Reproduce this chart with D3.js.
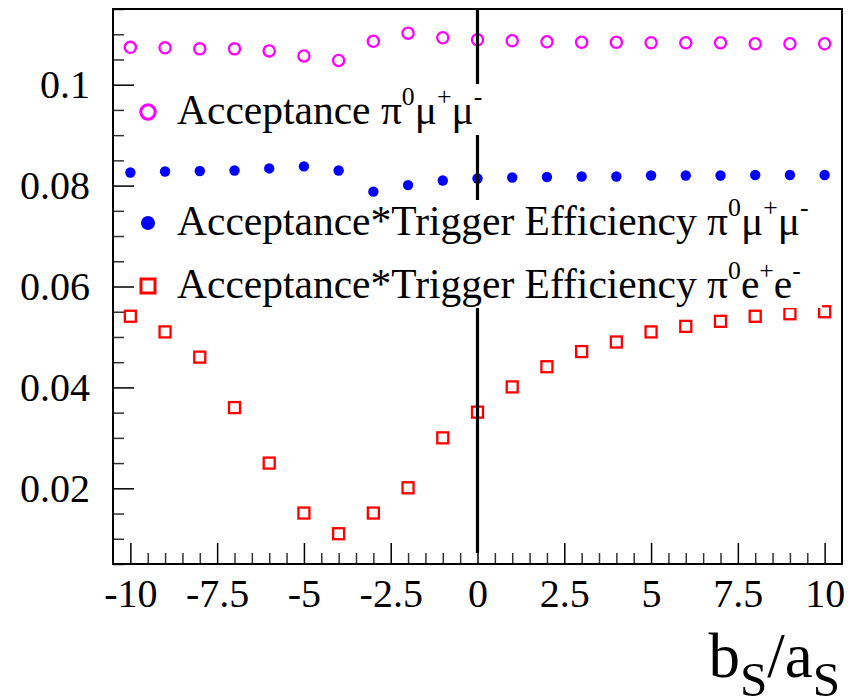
<!DOCTYPE html>
<html>
<head>
<meta charset="utf-8">
<script src="https://cdn.jsdelivr.net/npm/d3@7"></script>
<style>
body { margin: 0; background: #fff; }
svg { display: block; font-family: "Liberation Serif", "Times New Roman", serif; }
</style>
</head>
<body>
<div id="chart"></div>
<script>
// b_S/a_S scan points
var bsOverAs = [-10, -9, -8, -7, -6, -5, -4, -3, -2, -1, 0, 1, 2, 3, 4, 5, 6, 7, 8, 9, 10];

var acceptanceMuMu = [0.1074, 0.1073, 0.1071, 0.1071, 0.1067, 0.1057, 0.1048, 0.1086, 0.1102, 0.1093, 0.1089,
                      0.1087, 0.1085, 0.1084, 0.1084, 0.1083, 0.1083, 0.1083, 0.1081, 0.1081, 0.1081];
var acceptanceTrigMuMu = [0.0826, 0.0828, 0.0829, 0.0830, 0.0834, 0.0838, 0.0830, 0.0788, 0.0801, 0.0810, 0.0814,
                          0.0816, 0.0817, 0.0818, 0.0818, 0.0820, 0.0820, 0.0820, 0.0821, 0.0821, 0.0821];
var acceptanceTrigEE = [0.0541, 0.0510, 0.0460, 0.0360, 0.0250, 0.0151, 0.0110, 0.0151, 0.0201, 0.0300, 0.0351,
                        0.0401, 0.0441, 0.0471, 0.0490, 0.0510, 0.0521, 0.0531, 0.0541, 0.0546, 0.0550];

var xTickValues = [-10, -7.5, -5, -2.5, 0, 2.5, 5, 7.5, 10];
var xTickLabels = ["-10", "-7.5", "-5", "-2.5", "0", "2.5", "5", "7.5", "10"];
var yTickValues = [0.02, 0.04, 0.06, 0.08, 0.1];
var yTickLabels = ["0.02", "0.04", "0.06", "0.08", "0.1"];

var legendLabels = ["Acceptance \u03c0^{0}\u03bc^{+}\u03bc^{-}",
                    "Acceptance*Trigger Efficiency \u03c0^{0}\u03bc^{+}\u03bc^{-}",
                    "Acceptance*Trigger Efficiency \u03c0^{0}e^{+}e^{-}"];
var xTitle = "b_{S}/a_{S}";

(function() {
    var W = 863, H = 699;
    var L = 113, R = 842, T = 9, B = 564;

    var svg = d3.select("#chart").append("svg")
        .attr("width", W).attr("height", H);

    var x = d3.scaleLinear().domain([-10.5, 10.5]).range([L, R]);
    var y = d3.scaleLinear().domain([0.005, 0.115]).range([B, T]);

    // minor ticks
    var xMinor = d3.range(-10, 10.01, 0.5).filter(function(v) { return xTickValues.indexOf(v) < 0; });
    var yMinor = d3.range(0.005, 0.1151, 0.005).map(function(v) { return Math.round(v * 1000) / 1000; })
        .filter(function(v) { return yTickValues.indexOf(v) < 0; });

    var clean = function(g) {
        g.select(".domain").remove();
        g.attr("font-family", null).attr("font-size", null);
    };

    svg.append("g")
        .attr("transform", "translate(0," + B + ")")
        .call(d3.axisBottom(x).tickValues(xMinor).tickSize(-11).tickFormat(""))
        .call(clean)
        .selectAll("line").attr("stroke", "#333").attr("stroke-width", 1.5);

    var xAx = svg.append("g")
        .attr("transform", "translate(0," + B + ")")
        .call(d3.axisBottom(x).tickValues(xTickValues).tickSize(-21).tickPadding(15)
            .tickFormat(function(d, i) { return xTickLabels[i]; }))
        .call(clean);
    xAx.selectAll("line").attr("stroke", "#000").attr("stroke-width", 1.5);
    xAx.selectAll("text").attr("font-size", 40).attr("fill", "#000");

    svg.append("g")
        .attr("transform", "translate(" + L + ",0)")
        .call(d3.axisLeft(y).tickValues(yMinor).tickSize(-11).tickFormat(""))
        .call(clean)
        .selectAll("line").attr("stroke", "#333").attr("stroke-width", 1.5);

    var yAx = svg.append("g")
        .attr("transform", "translate(" + L + ",0)")
        .call(d3.axisLeft(y).tickValues(yTickValues).tickSize(-21).tickPadding(23)
            .tickFormat(function(d, i) { return yTickLabels[i]; }))
        .call(clean);
    yAx.selectAll("line").attr("stroke", "#000").attr("stroke-width", 1.5);
    yAx.selectAll("text").attr("font-size", 40).attr("fill", "#000");

    // frame
    svg.append("rect")
        .attr("x", L).attr("y", T)
        .attr("width", R - L).attr("height", B - T)
        .attr("fill", "none").attr("stroke", "#000").attr("stroke-width", 2);

    var pts = function(vals) {
        return vals.map(function(v, i) { return { x: bsOverAs[i], y: v }; });
    };

    // series
    svg.append("g").selectAll("circle")
        .data(pts(acceptanceMuMu))
        .enter().append("circle")
        .attr("cx", function(d) { return x(d.x); })
        .attr("cy", function(d) { return y(d.y); })
        .attr("r", 5.6)
        .attr("fill", "none").attr("stroke", "#ff00ff").attr("stroke-width", 2.3);

    svg.append("g").selectAll("circle")
        .data(pts(acceptanceTrigMuMu))
        .enter().append("circle")
        .attr("cx", function(d) { return x(d.x); })
        .attr("cy", function(d) { return y(d.y); })
        .attr("r", 5.2)
        .attr("fill", "#0000ff");

    svg.append("g").selectAll("rect")
        .data(pts(acceptanceTrigEE))
        .enter().append("rect")
        .attr("x", function(d) { return x(d.x) - 5.5; })
        .attr("y", function(d) { return y(d.y) - 5.5; })
        .attr("width", 11).attr("height", 11)
        .attr("fill", "none").attr("stroke", "#ff0000").attr("stroke-width", 2.3);

    // line at b_S/a_S = 0
    svg.append("line")
        .attr("x1", x(0)).attr("x2", x(0))
        .attr("y1", y(0.0072)).attr("y2", T)
        .attr("stroke", "#000").attr("stroke-width", 3.2);

    // legend boxes (white fill, no border)
    [[84, 135], [200, 308]].forEach(function(b) {
        svg.append("rect")
            .attr("x", 138).attr("y", b[0])
            .attr("width", 684).attr("height", b[1] - b[0])
            .attr("fill", "#fff");
    });

    // tiny TLatex-like ^{} / _{} handling
    var latex = function(sel, str, base, supScale, subScale, subDrop) {
        var parts = str.split(/([\^_])\{([^}]*)\}/);
        var shift = 0;
        for (var i = 0; i < parts.length; i++) {
            if (parts[i] == "^" || parts[i] == "_") {
                var up = parts[i] == "^";
                var d = up ? -base * 0.45 : base * subDrop;
                sel.append("tspan")
                    .attr("dy", d - shift)
                    .attr("font-size", base * (up ? supScale : subScale))
                    .text(parts[i + 1]);
                shift = d;
                i++;
            } else if (parts[i].length) {
                sel.append("tspan").attr("dy", -shift).text(parts[i]);
                shift = 0;
            }
        }
    };

    var legendY = [112, 223, 286];
    var leg = svg.append("g");
    leg.append("circle").attr("cx", 148).attr("cy", legendY[0]).attr("r", 7.2)
        .attr("fill", "none").attr("stroke", "#ff00ff").attr("stroke-width", 3);
    leg.append("circle").attr("cx", 148).attr("cy", legendY[1]).attr("r", 7)
        .attr("fill", "#0000ff");
    leg.append("rect").attr("x", 141).attr("y", legendY[2] - 7).attr("width", 14).attr("height", 14)
        .attr("fill", "none").attr("stroke", "#ff0000").attr("stroke-width", 3);

    legendLabels.forEach(function(lbl, i) {
        var t = leg.append("text")
            .attr("x", 177).attr("y", legendY[i] + 12)
            .attr("font-size", 41.5).attr("fill", "#000");
        latex(t, lbl, 41.5, 0.62, 0.7, 0.27);
    });

    // axis title
    var tt = svg.append("text")
        .attr("x", 840).attr("y", 677)
        .attr("text-anchor", "end")
        .attr("font-size", 63).attr("fill", "#000");
    latex(tt, xTitle, 63, 0.6, 0.78, 0.3);
})();
</script>
</body>
</html>
